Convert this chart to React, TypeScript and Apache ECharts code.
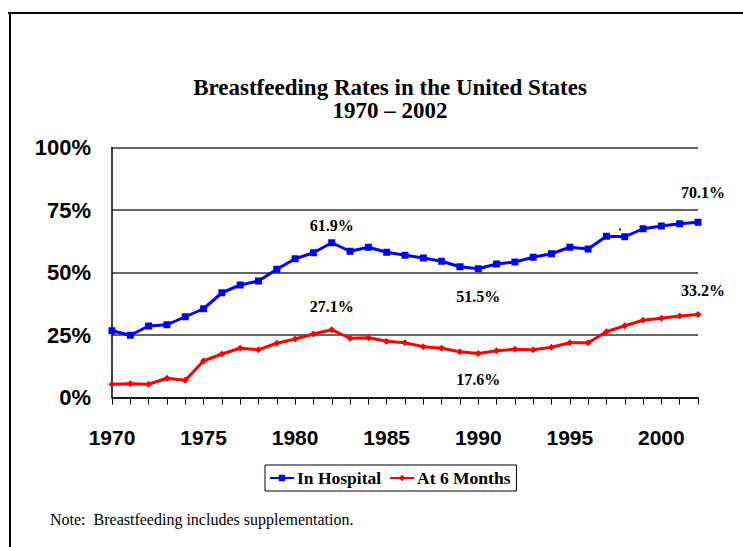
import React, { useEffect, useRef } from "react";
import * as echarts from "echarts";

const years = [1970, 1971, 1972, 1973, 1974, 1975, 1976, 1977, 1978, 1979, 1980, 1981, 1982, 1983, 1984, 1985, 1986, 1987, 1988, 1989, 1990, 1991, 1992, 1993, 1994, 1995, 1996, 1997, 1998, 1999, 2000, 2001, 2002];
const inHospital = [26.7, 24.9, 28.6, 29.1, 32.3, 35.5, 41.9, 45.0, 46.6, 51.3, 55.5, 57.9, 61.9, 58.5, 60.1, 58.1, 56.9, 55.8, 54.5, 52.3, 51.5, 53.4, 54.2, 56.1, 57.5, 60.1, 59.4, 64.5, 64.3, 67.5, 68.6, 69.5, 70.1];
const atSixMonths = [5.3, 5.5, 5.3, 7.7, 6.9, 14.6, 17.4, 19.7, 19.1, 21.7, 23.4, 25.4, 27.1, 23.7, 23.9, 22.5, 21.9, 20.3, 19.7, 18.3, 17.6, 18.7, 19.3, 19.1, 20.1, 21.9, 21.9, 26.3, 28.7, 30.9, 31.7, 32.6, 33.2];
const yTicks = [0, 25, 50, 75, 100];
// year -> [position, vertical offset]
const labelsHospital: Record<number, [string, number]> = { 1982: ["top", -1], 1990: ["bottom", 11], 2002: ["top", -13] };
const labelsSix: Record<number, [string, number]> = { 1982: ["top", -7], 1990: ["bottom", 9], 2002: ["top", -8] };

const serif = "'Liberation Serif', 'Times New Roman', Times, serif";
const sans = "'Liberation Sans', Arial, Helvetica, sans-serif";

function buildData(values: number[], labelled: Record<number, [string, number]>) {
  return years.map((yr, i) => {
    const lab = labelled[yr];
    if (!lab) return [yr, values[i]];
    const isLast = i === years.length - 1;
    return {
      value: [yr, values[i]],
      label: {
        show: true,
        position: lab[0],
        offset: [isLast ? 5 : 0, lab[1]],
        formatter: (p: any) => p.value[1].toFixed(1) + "%",
        fontFamily: serif,
        fontWeight: "bold",
        fontSize: 16,
        color: "#000",
      },
    };
  });
}

export default function App() {
  const ref = useRef<HTMLDivElement>(null);
  useEffect(() => {
    if (!ref.current) return;
    const chart = echarts.init(ref.current, undefined, { renderer: "svg" });
    chart.setOption({
      animation: false,
      backgroundColor: "#fff",
      title: {
        text: "Breastfeeding Rates in the United States\n1970 – 2002",
        left: 385,
        textAlign: "center",
        top: 70.5,
        textStyle: {
          fontFamily: serif,
          fontWeight: "bold",
          fontSize: 23,
          lineHeight: 23,
          color: "#000",
        },
      },
      grid: { left: 112, right: 45, top: 147.5, bottom: 149.5, containLabel: false },
      xAxis: {
        type: "value",
        min: 1970,
        max: 2002,
        interval: 1,
        axisLine: { show: true, lineStyle: { color: "#000", width: 1.5 } },
        axisTick: { show: true, length: 7, lineStyle: { color: "#000", width: 1 } },
        splitLine: { show: false },
        axisLabel: {
          margin: 29,
          formatter: (v: number) => (v % 5 === 0 ? String(v) : ""),
          fontFamily: sans,
          fontWeight: "bold",
          fontSize: 21,
          color: "#000",
        },
      },
      yAxis: {
        type: "value",
        min: 0,
        max: 100,
        interval: 25,
        axisLine: { show: true, lineStyle: { color: "#000", width: 1.5 } },
        axisTick: { show: false },
        splitLine: { show: true, lineStyle: { color: "#333", width: 1.5 } },
        axisLabel: {
          margin: 21,
          formatter: (v: number) => (yTicks.includes(v) ? v + "%" : ""),
          fontFamily: sans,
          fontWeight: "bold",
          fontSize: 22,
          color: "#000",
        },
      },
      legend: {
        left: 265,
        top: 465,
        orient: "horizontal",
        borderColor: "#000",
        borderWidth: 1,
        padding: [4, 6, 4, 4],
        itemGap: 8,
        itemWidth: 24,
        itemHeight: 8,
        textStyle: { fontFamily: serif, fontWeight: "bold", fontSize: 17.5, color: "#000", padding: [0, 0, 0, -2] },
        data: ["In Hospital", "At 6 Months"],
      },
      series: [
        {
          name: "In Hospital",
          type: "line",
          data: buildData(inHospital, labelsHospital),
          symbol: "rect",
          symbolSize: 7,
          lineStyle: { color: "#0000FF", width: 3 },
          itemStyle: { color: "#0000FF" },
          z: 3,
        },
        {
          name: "At 6 Months",
          type: "line",
          data: buildData(atSixMonths, labelsSix),
          symbol: "diamond",
          symbolSize: 7,
          lineStyle: { color: "#FF0000", width: 3 },
          itemStyle: { color: "#FF0000" },
          z: 3,
        },
      ],
      graphic: [
        { type: "line", shape: { x1: 8, y1: 13, x2: 743, y2: 13 }, style: { stroke: "#000", lineWidth: 2 } },
        { type: "line", shape: { x1: 10, y1: 12, x2: 10, y2: 547 }, style: { stroke: "#000", lineWidth: 2 } },
        { type: "circle", shape: { cx: 620, cy: 229.5, r: 1 }, style: { fill: "#000" } },
        {
          type: "text",
          left: 50,
          top: 511,
          style: {
            text: "Note:  Breastfeeding includes supplementation.",
            fontFamily: serif,
            fontSize: 16,
            fill: "#000",
          },
        },
      ],
    });
    return () => chart.dispose();
  }, []);
  return <div ref={ref} style={{ position: "fixed", left: 0, top: 0, width: 743, height: 547 }} />;
}
